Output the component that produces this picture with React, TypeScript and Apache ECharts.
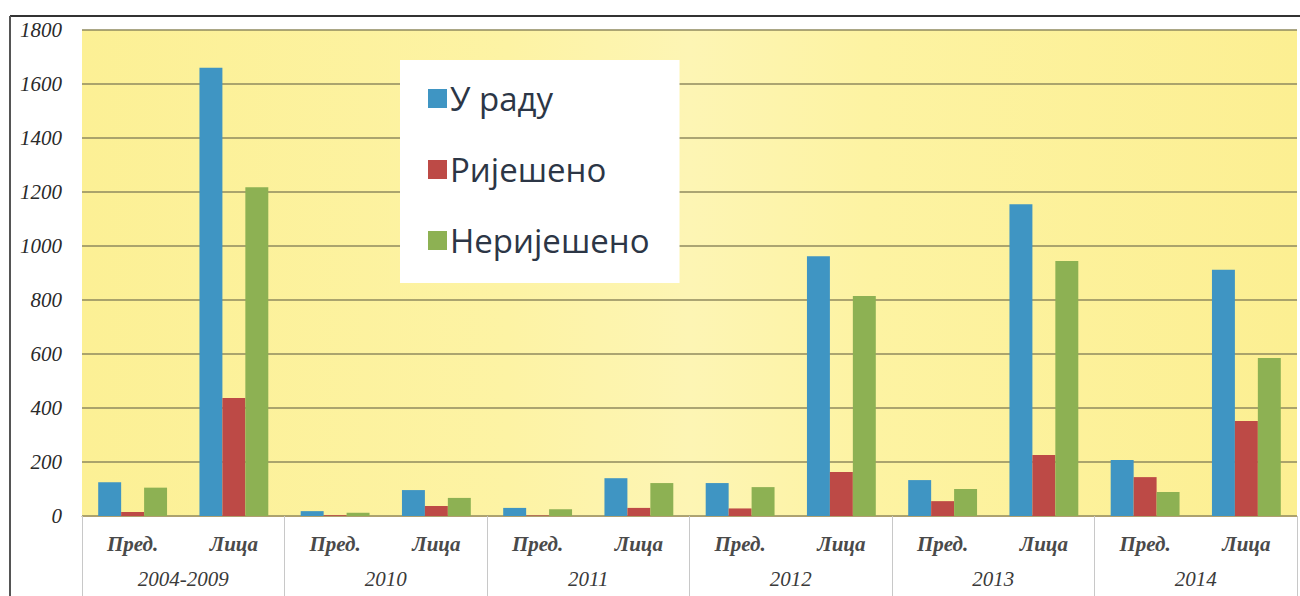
import React, { useEffect, useRef } from "react";
import * as echarts from "echarts";

const subCategories = ["Пред.", "Лица", "Пред.", "Лица", "Пред.", "Лица", "Пред.", "Лица", "Пред.", "Лица", "Пред.", "Лица"];
const years = ["2004-2009", "2010", "2011", "2012", "2013", "2014"];
const yTicks = [0, 200, 400, 600, 800, 1000, 1200, 1400, 1600, 1800];
const seriesNames = ["У раду", "Ријешено", "Неријешено"];
const uRadu = [125, 1660, 18, 96, 30, 140, 122, 962, 133, 1155, 207, 912];
const rijeseno = [15, 437, 3, 37, 2, 30, 28, 163, 55, 226, 144, 352];
const nerijeseno = [105, 1218, 12, 67, 25, 122, 107, 815, 100, 944, 89, 585];
const colors = ["#3f95c3", "#bd4a46", "#8db153"];

export default function App() {
  const ref = useRef<HTMLDivElement>(null);
  useEffect(() => {
    document.body.style.margin = "0";
    const chart = echarts.init(ref.current!, null, { renderer: "svg" });
    const serif = "'Liberation Serif', 'DejaVu Serif', serif";
    chart.setOption({
      animation: false,
      backgroundColor: "#ffffff",
      grid: {
        left: 82,
        right: 3,
        top: 30,
        bottom: 80,
        show: true,
        borderWidth: 0,
        backgroundColor: {
          type: "linear",
          x: 0, y: 0, x2: 1, y2: 0,
          colorStops: [
            { offset: 0, color: "#fcf095" },
            { offset: 0.35, color: "#fdf3a4" },
            { offset: 0.5, color: "#fdf5b4" },
            { offset: 0.65, color: "#fdf3a2" },
            { offset: 1, color: "#fcef92" },
          ],
        },
      },
      legend: {
        data: seriesNames,
        orient: "vertical",
        left: 400,
        top: 60,
        backgroundColor: "#ffffff",
        padding: [22, 30, 26, 28],
        itemGap: 38,
        itemWidth: 19,
        itemHeight: 19,
        icon: "rect",
        textStyle: { fontSize: 33, color: "#2c3646", fontFamily: "'Open Sans', 'Noto Sans', sans-serif", padding: [0, 0, 0, -2] },
      },
      xAxis: [
        {
          type: "category",
          data: subCategories,
          axisLine: { show: true, lineStyle: { color: "#b0a070", width: 1 } },
          axisTick: { show: false },
          axisLabel: {
            interval: 0,
            margin: 17,
            fontSize: 21,
            fontStyle: "italic",
            fontWeight: "bold",
            fontFamily: serif,
            color: "#4a4a4a",
          },
        },
        {
          type: "category",
          data: years,
          position: "bottom",
          axisLine: { show: false },
          axisTick: { show: true, length: 80, inside: false, lineStyle: { color: "#c8c8c8", width: 1 } },
          axisLabel: {
            interval: 0,
            margin: 52,
            fontSize: 21,
            fontStyle: "italic",
            fontFamily: serif,
            color: "#3a3a3a",
          },
          splitLine: { show: false },
        },
      ],
      yAxis: {
        type: "value",
        min: 0,
        max: 1800,
        interval: 200,
        axisLine: { show: false },
        axisTick: { show: false },
        axisLabel: {
          margin: 20,
          fontSize: 21,
          fontStyle: "italic",
          fontFamily: serif,
          color: "#2a2a2a",
          formatter: (v: number) => (yTicks.includes(v) ? String(v) : ""),
        },
        splitLine: { show: true, lineStyle: { color: "#8f8a5e", width: 1.5 } },
      },
      series: [
        { name: seriesNames[0], type: "bar", data: uRadu, itemStyle: { color: colors[0] }, barGap: "0%", barCategoryGap: "32%" },
        { name: seriesNames[1], type: "bar", data: rijeseno, itemStyle: { color: colors[1] }, barGap: "0%", barCategoryGap: "32%" },
        { name: seriesNames[2], type: "bar", data: nerijeseno, itemStyle: { color: colors[2] }, barGap: "0%", barCategoryGap: "32%" },
      ],
      graphic: [
        { type: "line", shape: { x1: 10, y1: 16, x2: 1300, y2: 16 }, style: { stroke: "#333333", lineWidth: 2 } },
        { type: "line", shape: { x1: 10, y1: 16, x2: 10, y2: 596 }, style: { stroke: "#555555", lineWidth: 2 } },
      ],
    });
    return () => chart.dispose();
  }, []);
  return <div ref={ref} style={{ width: 1300, height: 596 }} />;
}
